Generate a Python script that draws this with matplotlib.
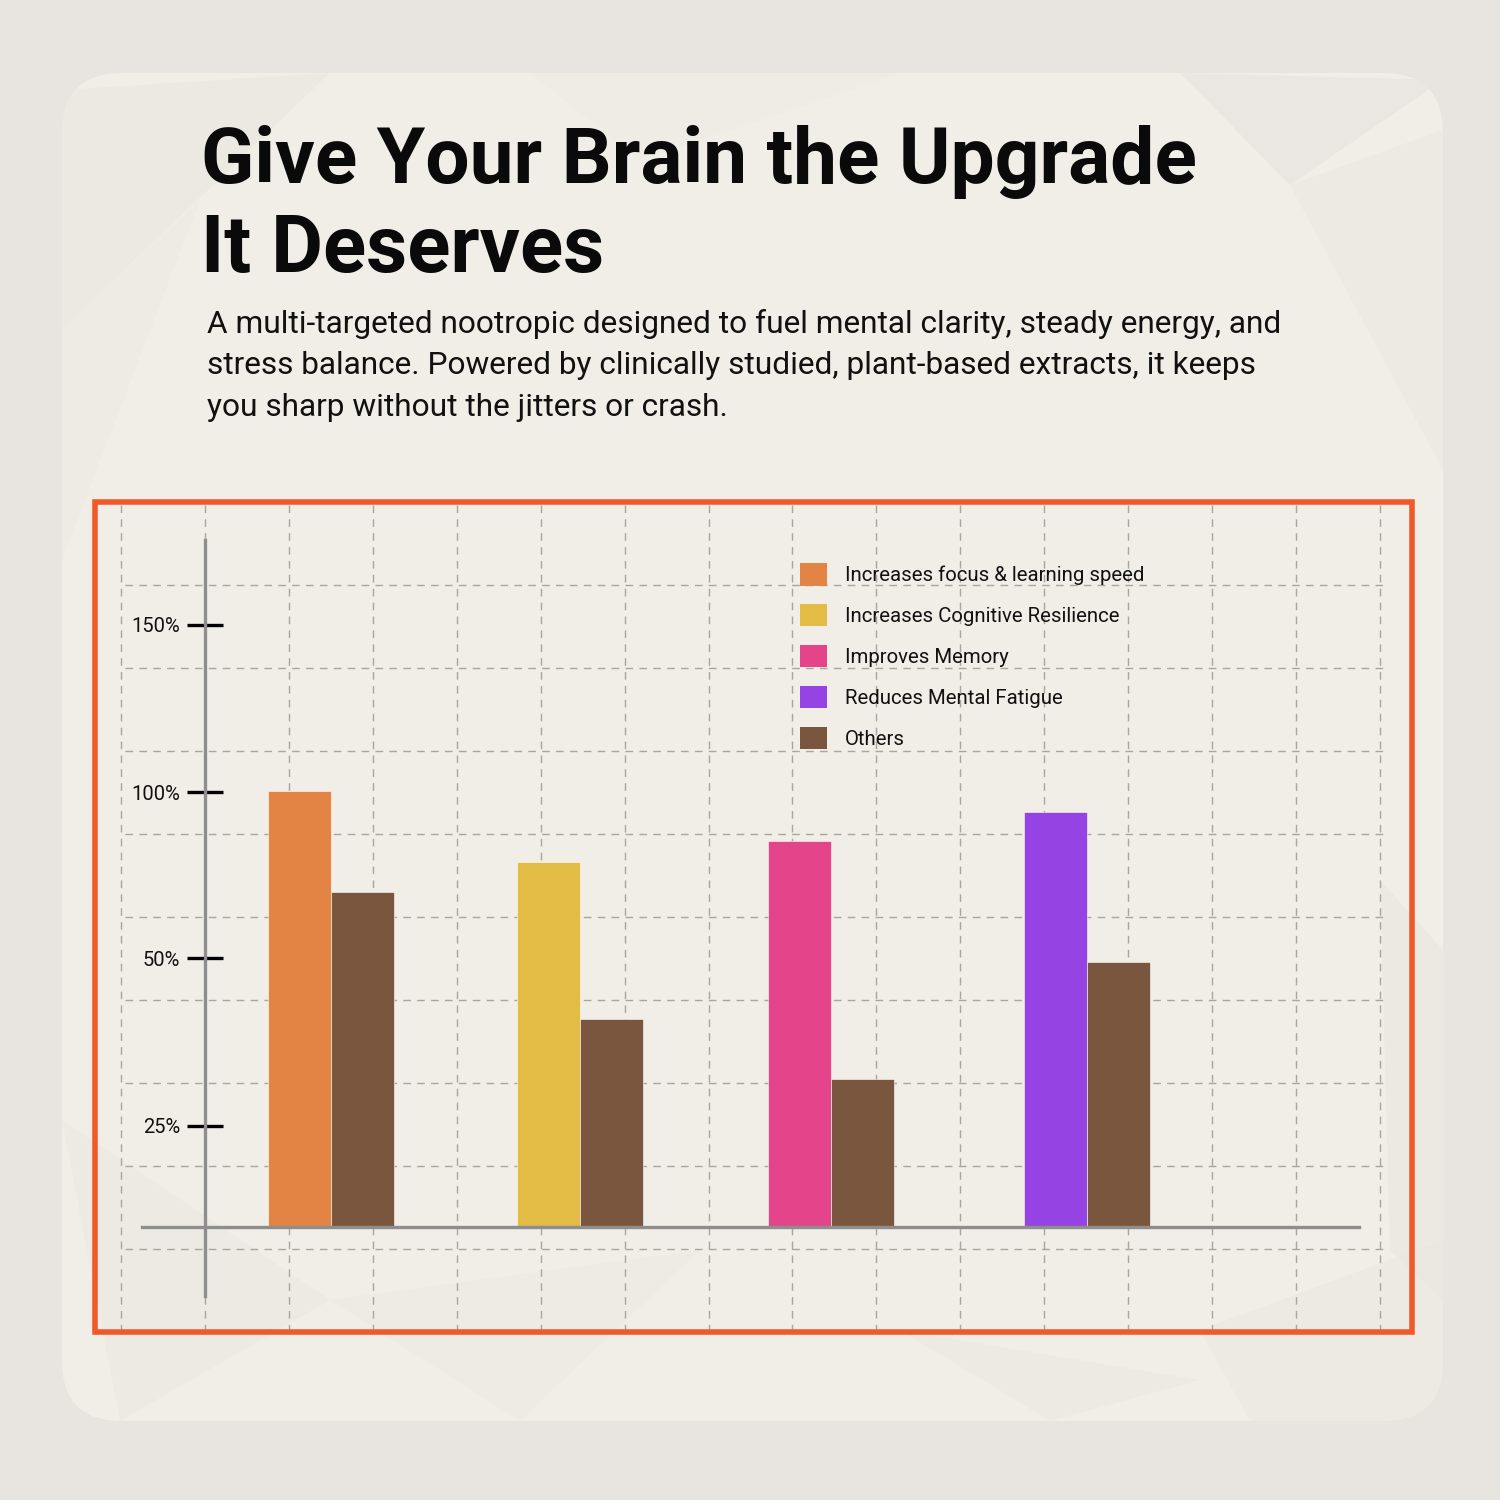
import matplotlib
matplotlib.use("Agg")
import matplotlib.pyplot as plt
from matplotlib.patches import FancyBboxPatch, Rectangle, Polygon, Patch

plt.rcParams['font.family'] = ['Roboto', 'DejaVu Sans']
plt.rcParams['lines.scale_dashes'] = False

# ---------------- data ----------------
title_lines = ["Give Your Brain the Upgrade", "It Deserves"]
subtitle_lines = [
    "A multi-targeted nootropic designed to fuel mental clarity, steady energy, and",
    "stress balance. Powered by clinically studied, plant-based extracts, it keeps",
    "you sharp without the jitters or crash.",
]
categories = ["Increases focus & learning speed", "Increases Cognitive Resilience",
              "Improves Memory", "Reduces Mental Fatigue"]
benefit_values = [100.0, 83.7, 88.5, 95.1]
others_values = [76.8, 47.8, 33.9, 60.8]
others_label = "Others"
tick_labels = ["25%", "50%", "100%", "150%"]
tick_values = [23.2, 61.6, 99.7, 138.1]

benefit_colors = ["#E38444", "#E2BC44", "#E3448A", "#9543E2"]
others_color = "#7A563E"

# ---------------- figure ----------------
W = H = 1500
fig = plt.figure(figsize=(15, 15), dpi=100)
fig.patch.set_facecolor("#E8E5E0")

bg = fig.add_axes([0, 0, 1, 1], zorder=0)
bg.set_xlim(0, W)
bg.set_ylim(H, 0)
bg.axis("off")

card = FancyBboxPatch((62, 73), 1443 - 62, 1421 - 73,
                      boxstyle="round,pad=0,rounding_size=60",
                      facecolor="#F1EEE8", edgecolor="none")
bg.add_patch(card)

# faint low-poly texture (clipped to the card)
polys = [
    ([(62, 90), (330, 73), (62, 330)], "#E9E6E0", 0.5),
    ([(62, 330), (200, 200), (62, 560)], "#ECE9E3", 0.45),
    ([(1180, 73), (1443, 80), (1290, 185)], "#E6E3DE", 0.55),
    ([(1290, 185), (1443, 130), (1443, 470)], "#EAE7E2", 0.5),
    ([(530, 73), (900, 73), (640, 160)], "#EDEAE4", 0.45),
    ([(62, 1120), (330, 1300), (120, 1421)], "#EAE7E1", 0.45),
    ([(330, 1300), (700, 1250), (520, 1421)], "#ECE9E3", 0.45),
    ([(900, 1330), (1200, 1380), (1050, 1421)], "#EAE7E1", 0.45),
    ([(1380, 880), (1443, 950), (1443, 1300), (1390, 1250)], "#E8E5E0", 0.5),
    ([(1200, 1330), (1443, 1240), (1443, 1421), (1250, 1421)], "#EAE7E1", 0.5),
]
for pts, col, a in polys:
    p = Polygon(pts, closed=True, facecolor=col, edgecolor="none", alpha=a)
    bg.add_patch(p)
    p.set_clip_path(card)

# ---------------- texts ----------------
def fx(px):
    return px / W

def fy(py):
    return 1 - py / H

title_baselines = [182.7, 271.7]
title_sizes = [56.5, 57.5]
for line, b, fs in zip(title_lines, title_baselines, title_sizes):
    fig.text(fx(201), fy(b), line, fontsize=fs, fontweight="bold", color="#0A0A0A",
             va="baseline", ha="left")

sub_baselines = [333.3, 374.5, 415.5]
for line, b in zip(subtitle_lines, sub_baselines):
    fig.text(fx(207), fy(b), line, fontsize=22.8, color="#111111",
             va="baseline", ha="left")

# ---------------- chart axes ----------------
x0_px, px_per_unit = 121.0, 83.93
base_px, px_per_pct = 1227.0, 4.36
left_px, right_px, top_px, bot_px = 94.75, 1412.0, 502.0, 1332.0

ax = fig.add_axes([fx(left_px), fy(bot_px), (right_px - left_px) / W, (bot_px - top_px) / H],
                  zorder=2)
ax.set_facecolor("none")
ax.set_xlim((left_px - x0_px) / px_per_unit, (right_px - x0_px) / px_per_unit)
ax.set_ylim((base_px - bot_px) / px_per_pct, (base_px - top_px) / px_per_pct)

# dashed grid
grid_kw = dict(color="#A9A5A0", linewidth=1.0, linestyle=(0, (5.5, 4.5)), zorder=0)
for k in range(0, 17):
    ax.axvline(k, **grid_kw)
for k in range(0, 11):
    yv = (base_px - (top_px + 83.0 * k)) / px_per_pct
    ax.plot([0.05, 15.07], [yv, yv], **grid_kw)

# bars
centers = [2.5, 5.47, 8.46, 11.51]
bw = 0.75
handles = []
for c, v, col, lab in zip(centers, benefit_values, benefit_colors, categories):
    ax.bar(c - bw / 2, v, width=bw, color=col, edgecolor="#FFFFFF", linewidth=0.4,
           zorder=3, label=lab)
    handles.append(Patch(facecolor=col, edgecolor="none", label=lab))
for c, v in zip(centers, others_values):
    ax.bar(c + bw / 2, v, width=bw, color=others_color, edgecolor="#FFFFFF", linewidth=0.4,
           zorder=3)
handles.append(Patch(facecolor=others_color, edgecolor="none", label=others_label))

# axis lines
for s in ["top", "right"]:
    ax.spines[s].set_visible(False)
ax.spines["left"].set_position(("data", 1.0))
ax.spines["left"].set_bounds((base_px - 1296) / px_per_pct, (base_px - 540) / px_per_pct)
ax.spines["bottom"].set_position(("data", 0.0))
ax.spines["bottom"].set_bounds((141.7 - x0_px) / px_per_unit, (1359 - x0_px) / px_per_unit)
for s in ["left", "bottom"]:
    ax.spines[s].set_color("#8E8E8E")
    ax.spines[s].set_linewidth(2.4)
    ax.spines[s].set_zorder(4)

ax.set_xticks([])
ax.set_yticks(tick_values)
ax.set_yticklabels(tick_labels)
ax.tick_params(axis="y", direction="inout", length=25.5, width=2.4, color="#000000",
               pad=5, labelsize=14.5, labelcolor="#111111")

# frame
ax.add_patch(Rectangle((0, 0), 1, 1, transform=ax.transAxes, fill=False,
                       edgecolor="#F0592A", linewidth=4.0, clip_on=False, zorder=6))

# legend
leg = ax.legend(handles=handles, loc="upper left",
                bbox_to_anchor=(fx(800), fy(563.0)), bbox_transform=fig.transFigure,
                frameon=False, fontsize=14.7, handlelength=1.32, handleheight=1.32,
                handletextpad=0.9, labelspacing=0.9, borderpad=0, borderaxespad=0)
for t in leg.get_texts():
    t.set_color("#111111")

fig.savefig("out.png", dpi=100, facecolor=fig.get_facecolor())
